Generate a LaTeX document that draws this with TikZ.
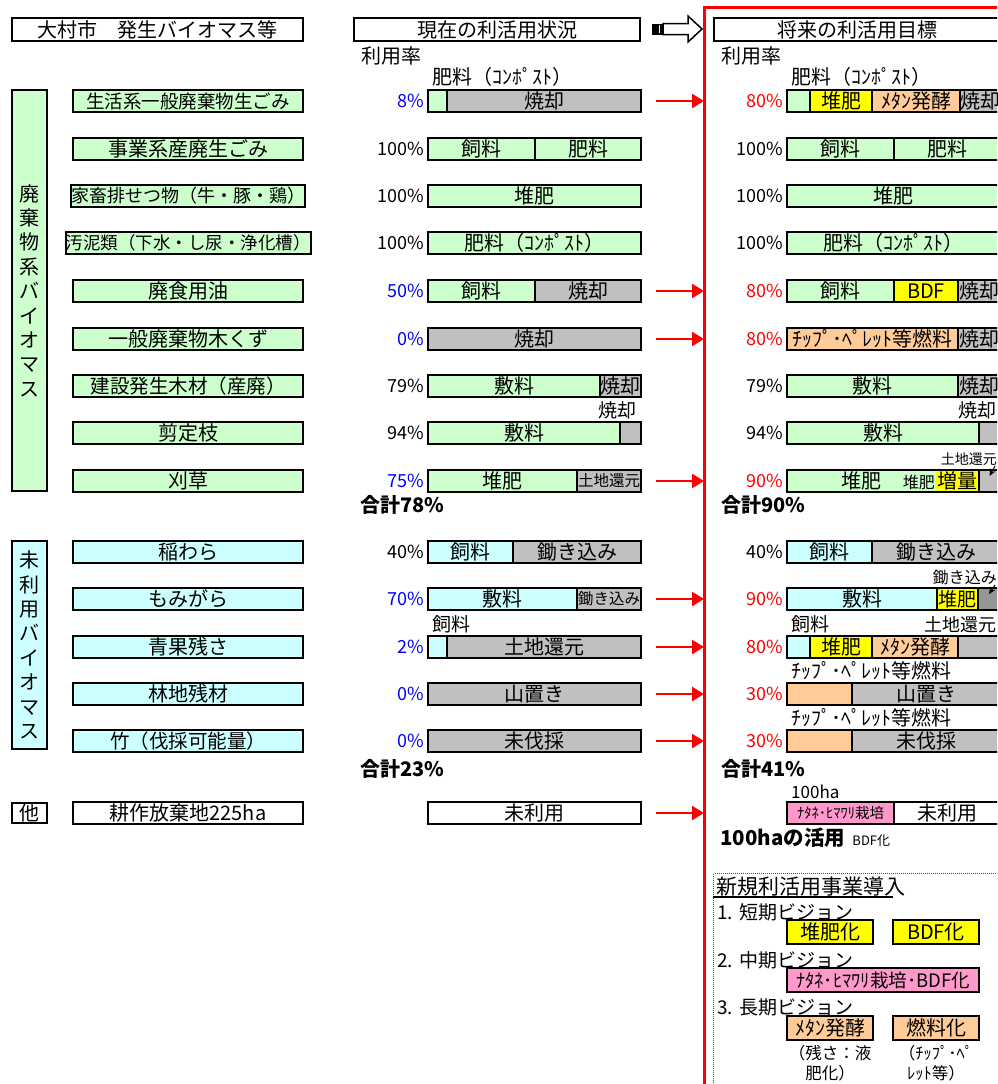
\documentclass[tikz,border=0pt]{standalone}
\usepackage{fontspec}
\setmainfont{Noto Sans CJK JP}
\usetikzlibrary{arrows.meta, positioning}

\definecolor{wgreen}{HTML}{CCFFCC}
\definecolor{ucyan}{HTML}{CCFFFF}
\definecolor{lgray}{HTML}{C0C0C0}
\definecolor{dgray}{HTML}{969696}
\definecolor{byellow}{HTML}{FFFF00}
\definecolor{lorange}{HTML}{FFCC99}
\definecolor{lpink}{HTML}{FF99CC}
\definecolor{pblue}{HTML}{0000FF}
\definecolor{pred}{HTML}{FF0000}

\newcommand{\fsz}[1]{\fontsize{#1}{#1}\selectfont}

\begin{document}
\begin{tikzpicture}[x=1pt, y=-1pt, font=\fsz{20},
    box/.style={draw, line width=2pt, inner sep=0pt, outer sep=0pt, minimum height=22pt},
    headbox/.style={box, minimum height=22.5pt},
    item/.style={box, minimum width=230pt},
    cat/.style={box, minimum width=35pt, align=center, font=\fontsize{20}{24.4}\selectfont},
    seg/.style={box, anchor=west},
    pct/.style={inner sep=0pt, font=\fsz{18}},
    note/.style={inner sep=0pt},
    total/.style={inner sep=0pt, anchor=west, font=\fsz{20}\bfseries},
    redarr/.style={draw=pred, line width=2.5pt, shorten <=15pt, -{Triangle[length=12pt, width=14pt]}},
    blkarr/.style={line width=1pt, -{Stealth[length=7pt, width=6pt]}},
    vbox/.style={box, minimum width=86pt, minimum height=24pt}
]

\path[use as bounding box] (0,0) rectangle (997,1084);
\clip (0,0) rectangle (997,1084);

% Red frame round the target side
\draw[pred, line width=3pt] (704,1095) -- (704,7) -- (1005,7);

% Headings
\node[headbox, minimum width=291pt] (hsrc) at (157.5,29.5) {大村市　発生バイオマス等};
\node[headbox, minimum width=286pt] (hnow) at (497,29.5) {現在の利活用状況};
\node[headbox, minimum width=286pt] (hfut) at (857,29.5) {将来の利活用目標};
\node[note, anchor=west] (rnow) at (361,56) {利用率};
\node[note, anchor=west] (rfut) at (721,56) {利用率};

% Hollow arrow between the headings
\fill (652,23.5) rectangle (663,34.5);
\draw[line width=1.5pt, fill=white] (663,23.5) -- (688,23.5) -- (688,16) -- (702,29)
    -- (688,42) -- (688,34.5) -- (663,34.5) -- cycle;
\draw[white, line width=1pt] (659,25) -- (659,33);

% Category boxes
\node[cat, fill=wgreen, minimum height=401pt] (cwaste) at (29.5,290.5) {廃\\棄\\物\\系\\バ\\イ\\オ\\マ\\ス};
\node[cat, fill=ucyan, minimum height=208pt] (cunused) at (29.5,645) {未\\利\\用\\バ\\イ\\オ\\マ\\ス};
\node[cat, fill=white, minimum height=20pt] (cother) at (29.5,813) {他};

% Biomass items
\node[item, fill=wgreen, font=\fsz{18.5}] (i1) at (188,101) {生活系一般廃棄物生ごみ};
\node[item, fill=wgreen] (i2) at (188,149) {事業系産廃生ごみ};
\node[item, fill=wgreen, font=\fsz{18}] (i3) at (188,196) {家畜排せつ物（牛・豚・鶏）};
\node[item, fill=wgreen, font=\fsz{17.5}] (i4) at (188,243) {汚泥類（下水・し尿・浄化槽）};
\node[item, fill=wgreen] (i5) at (188,291) {廃食用油};
\node[item, fill=wgreen] (i6) at (188,339) {一般廃棄物木くず};
\node[item, fill=wgreen, font=\fsz{19.5}] (i7) at (188,386) {建設発生木材（産廃）};
\node[item, fill=wgreen] (i8) at (188,433) {剪定枝};
\node[item, fill=wgreen] (i9) at (188,481) {刈草};
\node[item, fill=ucyan] (i10) at (188,552) {稲わら};
\node[item, fill=ucyan] (i11) at (188,599) {もみがら};
\node[item, fill=ucyan] (i12) at (188,647) {青果残さ};
\node[item, fill=ucyan] (i13) at (188,694) {林地残材};
\node[item, fill=ucyan, font=\fsz{19.5}] (i14) at (188,741) {竹（伐採可能量）};
\node[item, fill=white] (i15) at (188,813) {耕作放棄地225ha};

% Present use bars
\node[seg, fill=wgreen, minimum width=19pt] (m1a) at (428,101) {};
\node[seg, fill=lgray, minimum width=194pt] (m1b) at (m1a.east) {焼却};
\node[note, anchor=south west] (lm1) at ([xshift=4pt, yshift=3pt]m1a.north west) {肥料（ｺﾝﾎﾟｽﾄ）};
\node[pct, text=pblue, left=4pt of m1a] (pm1) {8\%};

\node[seg, fill=wgreen, minimum width=107pt] (m2a) at (428,149) {飼料};
\node[seg, fill=wgreen, minimum width=106pt] (m2b) at (m2a.east) {肥料};
\node[pct, left=4pt of m2a] (pm2) {100\%};

\node[seg, fill=wgreen, minimum width=213pt] (m3) at (428,196) {堆肥};
\node[pct, left=4pt of m3] (pm3) {100\%};

\node[seg, fill=wgreen, minimum width=213pt] (m4) at (428,243) {肥料（ｺﾝﾎﾟｽﾄ）};
\node[pct, left=4pt of m4] (pm4) {100\%};

\node[seg, fill=wgreen, minimum width=107pt] (m5a) at (428,291) {飼料};
\node[seg, fill=lgray, minimum width=106pt] (m5b) at (m5a.east) {焼却};
\node[pct, text=pblue, left=4pt of m5a] (pm5) {50\%};

\node[seg, fill=lgray, minimum width=213pt] (m6) at (428,339) {焼却};
\node[pct, text=pblue, left=4pt of m6] (pm6) {0\%};

\node[seg, fill=wgreen, minimum width=172pt] (m7a) at (428,386) {敷料};
\node[seg, fill=lgray, minimum width=41pt] (m7b) at (m7a.east) {焼却};
\node[pct, left=4pt of m7a] (pm7) {79\%};

\node[seg, fill=wgreen, minimum width=192pt] (m8a) at (428,433) {敷料};
\node[seg, fill=lgray, minimum width=21pt] (m8b) at (m8a.east) {};
\node[note, anchor=south east, font=\fsz{19}] (lm8) at ([xshift=-4pt, yshift=3pt]m8b.north east) {焼却};
\node[pct, left=4pt of m8a] (pm8) {94\%};

\node[seg, fill=wgreen, minimum width=149pt] (m9a) at (428,481) {堆肥};
\node[seg, fill=lgray, minimum width=64pt, font=\fsz{15.5}] (m9b) at (m9a.east) {土地還元};
\node[pct, text=pblue, left=4pt of m9a] (pm9) {75\%};

\node[total] (sumw) at (360,505) {合計78\%};

\node[seg, fill=ucyan, minimum width=85pt] (m10a) at (428,552) {飼料};
\node[seg, fill=lgray, minimum width=128pt] (m10b) at (m10a.east) {鋤き込み};
\node[pct, left=4pt of m10a] (pm10) {40\%};

\node[seg, fill=ucyan, minimum width=149pt] (m11a) at (428,599) {敷料};
\node[seg, fill=lgray, minimum width=64pt, font=\fsz{15.5}] (m11b) at (m11a.east) {鋤き込み};
\node[pct, text=pblue, left=4pt of m11a] (pm11) {70\%};

\node[seg, fill=ucyan, minimum width=19pt] (m12a) at (428,647) {};
\node[seg, fill=lgray, minimum width=194pt] (m12b) at (m12a.east) {土地還元};
\node[note, anchor=south west, font=\fsz{19}] (lm12) at ([xshift=4pt, yshift=3pt]m12a.north west) {飼料};
\node[pct, text=pblue, left=4pt of m12a] (pm12) {2\%};

\node[seg, fill=lgray, minimum width=213pt] (m13) at (428,694) {山置き};
\node[pct, text=pblue, left=4pt of m13] (pm13) {0\%};

\node[seg, fill=lgray, minimum width=213pt] (m14) at (428,741) {未伐採};
\node[pct, text=pblue, left=4pt of m14] (pm14) {0\%};

\node[total] (sumu) at (360,769) {合計23\%};

\node[seg, fill=white, minimum width=213pt] (m15) at (428,813) {未利用};

% Target use bars
\node[seg, fill=wgreen, minimum width=23pt] (r1a) at (787,101) {};
\node[seg, fill=byellow, minimum width=62pt] (r1b) at (r1a.east) {堆肥};
\node[seg, fill=lorange, minimum width=88pt] (r1c) at (r1b.east) {ﾒﾀﾝ発酵};
\node[seg, fill=lgray, minimum width=40pt] (r1d) at (r1c.east) {焼却};
\node[note, anchor=south west] (lr1) at ([xshift=4pt, yshift=3pt]r1a.north west) {肥料（ｺﾝﾎﾟｽﾄ）};
\node[pct, text=pred, left=4pt of r1a] (pr1) {80\%};

\node[seg, fill=wgreen, minimum width=107pt] (r2a) at (787,149) {飼料};
\node[seg, fill=wgreen, minimum width=106pt] (r2b) at (r2a.east) {肥料};
\node[pct, left=4pt of r2a] (pr2) {100\%};

\node[seg, fill=wgreen, minimum width=213pt] (r3) at (787,196) {堆肥};
\node[pct, left=4pt of r3] (pr3) {100\%};

\node[seg, fill=wgreen, minimum width=213pt] (r4) at (787,243) {肥料（ｺﾝﾎﾟｽﾄ）};
\node[pct, left=4pt of r4] (pr4) {100\%};

\node[seg, fill=wgreen, minimum width=107pt] (r5a) at (787,291) {飼料};
\node[seg, fill=byellow, minimum width=64pt] (r5b) at (r5a.east) {BDF};
\node[seg, fill=lgray, minimum width=42pt] (r5c) at (r5b.east) {焼却};
\node[pct, text=pred, left=4pt of r5a] (pr5) {80\%};

\node[seg, fill=lorange, minimum width=171pt] (r6a) at (787,339) {ﾁｯﾌﾟ･ﾍﾟﾚｯﾄ等燃料};
\node[seg, fill=lgray, minimum width=42pt] (r6b) at (r6a.east) {焼却};
\node[pct, text=pred, left=4pt of r6a] (pr6) {80\%};

\node[seg, fill=wgreen, minimum width=171pt] (r7a) at (787,386) {敷料};
\node[seg, fill=lgray, minimum width=42pt] (r7b) at (r7a.east) {焼却};
\node[pct, left=4pt of r7a] (pr7) {79\%};

\node[seg, fill=wgreen, minimum width=192pt] (r8a) at (787,433) {敷料};
\node[seg, fill=lgray, minimum width=21pt] (r8b) at (r8a.east) {};
\node[note, anchor=south east, font=\fsz{19}] (lr8) at ([xshift=-3pt, yshift=3pt]r8b.north east) {焼却};
\node[pct, left=4pt of r8a] (pr8) {94\%};

\node[seg, fill=wgreen, minimum width=192pt] (r9a) at (787,481) {};
\node[seg, fill=lgray, minimum width=21pt] (r9b) at (r9a.east) {};
\node[fill=byellow, inner sep=0pt, outer sep=0pt, minimum width=42pt, minimum height=20pt,
    anchor=east] (r9y) at ([xshift=-1pt]r9a.east) {増量};
\node[note] (r9t) at (861,481) {堆肥};
\node[note, font=\fsz{16}, anchor=base east] (r9s) at ([xshift=-1pt]r9y.base west) {堆肥};
\node[note, anchor=south east, font=\fsz{14}] (lr9) at ([xshift=-3pt, yshift=4pt]r9b.north east) {土地還元};
\draw[blkarr] ([xshift=-2pt]lr9.south east) -- ([yshift=-6pt]r9b.north);
\node[pct, text=pred, left=4pt of r9a] (pr9) {90\%};

\node[total] (tsumw) at (721,505) {合計90\%};

\node[seg, fill=ucyan, minimum width=85pt] (r10a) at (787,552) {飼料};
\node[seg, fill=lgray, minimum width=128pt] (r10b) at (r10a.east) {鋤き込み};
\node[pct, left=4pt of r10a] (pr10) {40\%};

\node[seg, fill=ucyan, minimum width=150pt] (r11a) at (787,599) {敷料};
\node[seg, fill=byellow, minimum width=41pt, font=\fsz{19}] (r11b) at (r11a.east) {堆肥};
\node[seg, fill=dgray, minimum width=22pt] (r11c) at (r11b.east) {};
\node[note, anchor=south east, font=\fsz{16}] (lr11) at ([xshift=-3pt, yshift=3pt]r11c.north east) {鋤き込み};
\draw[blkarr] ([xshift=-2pt]lr11.south east) -- ([yshift=-6pt]r11c.north);
\node[pct, text=pred, left=4pt of r11a] (pr11) {90\%};

\node[seg, fill=ucyan, minimum width=23pt] (r12a) at (787,647) {};
\node[seg, fill=byellow, minimum width=62pt] (r12b) at (r12a.east) {堆肥};
\node[seg, fill=lorange, minimum width=86pt] (r12c) at (r12b.east) {ﾒﾀﾝ発酵};
\node[seg, fill=lgray, minimum width=42pt] (r12d) at (r12c.east) {};
\node[note, anchor=south west, font=\fsz{19}] (lr12a) at ([xshift=4pt, yshift=3pt]r12a.north west) {飼料};
\node[note, anchor=south east, font=\fsz{18}] (lr12b) at ([xshift=-3pt, yshift=3pt]r12d.north east) {土地還元};
\node[pct, text=pred, left=4pt of r12a] (pr12) {80\%};

\node[seg, fill=lorange, minimum width=65pt] (r13a) at (787,694) {};
\node[seg, fill=lgray, minimum width=148pt] (r13b) at (r13a.east) {山置き};
\node[note, anchor=south west] (lr13) at ([xshift=4pt, yshift=3pt]r13a.north west) {ﾁｯﾌﾟ･ﾍﾟﾚｯﾄ等燃料};
\node[pct, text=pred, left=4pt of r13a] (pr13) {30\%};

\node[seg, fill=lorange, minimum width=65pt] (r14a) at (787,741) {};
\node[seg, fill=lgray, minimum width=148pt] (r14b) at (r14a.east) {未伐採};
\node[note, anchor=south west] (lr14) at ([xshift=4pt, yshift=3pt]r14a.north west) {ﾁｯﾌﾟ･ﾍﾟﾚｯﾄ等燃料};
\node[pct, text=pred, left=4pt of r14a] (pr14) {30\%};

\node[total] (tsumu) at (721,769) {合計41\%};

\node[seg, fill=lpink, minimum width=107pt, font=\fsz{14.5}] (r15a) at (787,813) {ﾅﾀﾈ･ﾋﾏﾜﾘ栽培};
\node[seg, fill=white, minimum width=106pt] (r15b) at (r15a.east) {未利用};
\node[note, anchor=south west, font=\fsz{17}] (lr15) at ([xshift=4pt, yshift=3pt]r15a.north west) {100ha};
\node[total, font=\fsz{20.5}\bfseries] (huse) at (720,838) {100haの活用};
\node[note, anchor=base west, font=\fsz{13}] (hbdf) at ([xshift=7pt]huse.base east) {BDF化};

% Red arrows from present to target
\coordinate (f1) at (704,101);
\coordinate (f5) at (704,291);
\coordinate (f6) at (704,339);
\coordinate (f9) at (704,481);
\coordinate (f11) at (704,599);
\coordinate (f12) at (704,647);
\coordinate (f13) at (704,694);
\coordinate (f14) at (704,741);
\coordinate (f15) at (704,813);
\draw[redarr] (m1b.east) -- (f1);
\draw[redarr] (m5b.east) -- (f5);
\draw[redarr] (m6.east) -- (f6);
\draw[redarr] (m9b.east) -- (f9);
\draw[redarr] (m11b.east) -- (f11);
\draw[redarr] (m12b.east) -- (f12);
\draw[redarr] (m13.east) -- (f13);
\draw[redarr] (m14.east) -- (f14);
\draw[redarr] (m15.east) -- (f15);

% New project box
\node[draw=black!70, line width=1pt, dash pattern=on 1pt off 1pt, minimum width=300pt,
    minimum height=230pt, anchor=north west] (nbox) at (713,873) {};
\node[note, anchor=west, font=\fsz{21}] (nttl) at (716,887) {新規利活用事業導入};
\draw[line width=1.2pt] (713,897) -- (893,897);

\node[note, anchor=west, font=\fsz{19}] (v1) at (717,912) {1.\hspace{6pt}短期ビジョン};
\node[vbox, fill=byellow] (s1) at (830,932) {堆肥化};
\node[vbox, fill=byellow] (s2) at (936,932) {BDF化};

\node[note, anchor=west, font=\fsz{19}] (v2) at (717,960) {2.\hspace{6pt}中期ビジョン};
\node[box, fill=lpink, minimum width=192pt, minimum height=24pt, font=\fsz{18.5}] (s3) at (883,980) {ﾅﾀﾈ･ﾋﾏﾜﾘ栽培･BDF化};

\node[note, anchor=west, font=\fsz{19}] (v3) at (717,1007) {3.\hspace{6pt}長期ビジョン};
\node[vbox, fill=lorange] (s4) at (830,1027.5) {ﾒﾀﾝ発酵};
\node[vbox, fill=lorange] (s5) at (936,1027.5) {燃料化};
\node[note, align=center, font=\fontsize{16.5}{20}\selectfont, below=6pt of s4] (n4) {（残さ：液\\肥化）};
\node[note, align=center, font=\fontsize{16.5}{20}\selectfont, below=6pt of s5] (n5) {（ﾁｯﾌﾟ･ﾍﾟ\\ﾚｯﾄ等）};

\end{tikzpicture}
\end{document}
